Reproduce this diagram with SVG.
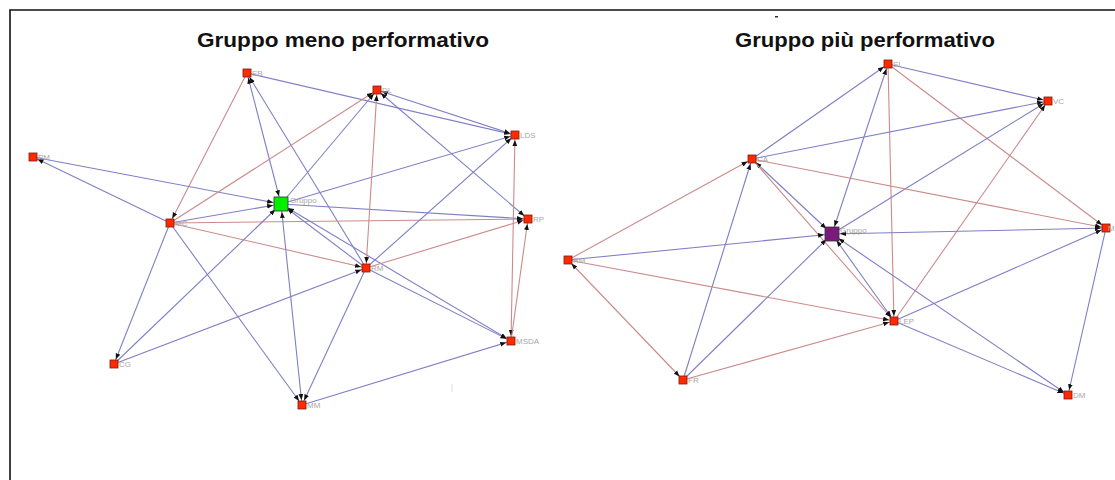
<svg xmlns="http://www.w3.org/2000/svg" width="1115" height="480" viewBox="0 0 1115 480">
<style>
.b{stroke:#7f7fc6;stroke-width:1.1;fill:none}
.r{stroke:#cc8a8a;stroke-width:1.1;fill:none}
.n{fill:#ff2a00;stroke:#7a1a10;stroke-width:0.8}
.lb{font-family:"Liberation Sans",Arial,sans-serif;font-size:8px;fill:#a8a8a8}
.t{font-family:"Liberation Sans",Arial,sans-serif;font-size:20px;font-weight:bold;fill:#111}
</style>
<defs>
<marker id="a" viewBox="0 0 12 6" refX="11" refY="3" markerWidth="12" markerHeight="6" markerUnits="userSpaceOnUse" orient="auto-start-reverse"><path d="M0,0.6 L6,3 L0,5.4z" fill="#111"/></marker>
<marker id="g" viewBox="0 0 15 6" refX="14" refY="3" markerWidth="15" markerHeight="6" markerUnits="userSpaceOnUse" orient="auto-start-reverse"><path d="M0,0.6 L6,3 L0,5.4z" fill="#111"/></marker>
</defs>
<rect width="1115" height="480" fill="#fff"/>
<path d="M10,480 V10 H1115" stroke="#111" stroke-width="1.6" fill="none"/>
<rect x="775" y="16" width="3" height="1.5" fill="#333"/>
<line x1="452" y1="384" x2="452" y2="392" stroke="#ddd" stroke-width="1"/>
<text class="t" x="197" y="47" textLength="292" lengthAdjust="spacingAndGlyphs">Gruppo meno  performativo</text>
<text class="t" x="735" y="47" textLength="260" lengthAdjust="spacingAndGlyphs">Gruppo più performativo</text>
<g id="connectors">
<!-- left -->
<line class="b" x1="247" y1="73" x2="515" y2="135" marker-end="url(#a)"/>
<line class="r" x1="247" y1="73" x2="170" y2="223" marker-end="url(#a)"/>
<line class="b" x1="247" y1="73" x2="281" y2="204" marker-end="url(#g)" marker-start="url(#a)"/>
<line class="b" x1="366" y1="268" x2="247" y2="73" marker-end="url(#a)"/>
<line class="b" x1="33" y1="157" x2="281" y2="204" marker-end="url(#g)"/>
<line class="b" x1="170" y1="223" x2="33" y2="157" marker-end="url(#a)"/>
<line class="r" x1="170" y1="223" x2="377" y2="90" marker-end="url(#a)"/>
<line class="b" x1="170" y1="223" x2="281" y2="204" marker-end="url(#g)"/>
<line class="r" x1="170" y1="223" x2="528" y2="219" marker-end="url(#a)"/>
<line class="r" x1="170" y1="223" x2="366" y2="268" marker-end="url(#a)"/>
<line class="b" x1="170" y1="223" x2="114" y2="364" marker-end="url(#a)"/>
<line class="b" x1="170" y1="223" x2="302" y2="405" marker-end="url(#a)"/>
<line class="b" x1="281" y1="204" x2="377" y2="90" marker-end="url(#a)"/>
<line class="b" x1="281" y1="204" x2="515" y2="135" marker-end="url(#a)"/>
<line class="b" x1="281" y1="204" x2="528" y2="219" marker-end="url(#a)"/>
<line class="b" x1="366" y1="268" x2="281" y2="204" marker-end="url(#g)"/>
<line class="b" x1="281" y1="204" x2="511" y2="341" marker-end="url(#a)" marker-start="url(#g)"/>
<line class="b" x1="302" y1="405" x2="281" y2="204" marker-end="url(#g)" marker-start="url(#a)"/>
<line class="r" x1="377" y1="90" x2="366" y2="268" marker-end="url(#a)" marker-start="url(#a)"/>
<line class="b" x1="377" y1="90" x2="515" y2="135" marker-end="url(#a)" marker-start="url(#a)"/>
<line class="b" x1="377" y1="90" x2="528" y2="219" marker-end="url(#a)" marker-start="url(#a)"/>
<line class="b" x1="366" y1="268" x2="515" y2="135" marker-end="url(#a)"/>
<line class="r" x1="515" y1="135" x2="511" y2="341" marker-end="url(#a)" marker-start="url(#a)"/>
<line class="r" x1="511" y1="341" x2="528" y2="219" marker-end="url(#a)"/>
<line class="r" x1="366" y1="268" x2="528" y2="219" marker-end="url(#a)"/>
<line class="b" x1="366" y1="268" x2="511" y2="341" marker-end="url(#a)"/>
<line class="b" x1="114" y1="364" x2="366" y2="268" marker-end="url(#a)"/>
<line class="b" x1="366" y1="268" x2="302" y2="405" marker-end="url(#a)"/>
<line class="b" x1="302" y1="405" x2="511" y2="341" marker-end="url(#a)"/>
<line class="b" x1="114" y1="364" x2="281" y2="204" marker-end="url(#g)"/>
<!-- right -->
<line class="b" x1="888" y1="64" x2="1048" y2="101" marker-end="url(#a)"/>
<line class="b" x1="752" y1="159" x2="888" y2="64" marker-end="url(#a)"/>
<line class="b" x1="832" y1="234" x2="888" y2="64" marker-end="url(#a)" marker-start="url(#g)"/>
<line class="r" x1="888" y1="64" x2="894" y2="321" marker-end="url(#a)"/>
<line class="r" x1="888" y1="64" x2="1106" y2="228" marker-end="url(#a)"/>
<line class="b" x1="752" y1="159" x2="1048" y2="101" marker-end="url(#a)"/>
<line class="b" x1="832" y1="234" x2="1048" y2="101" marker-end="url(#a)"/>
<line class="r" x1="894" y1="321" x2="1048" y2="101" marker-end="url(#a)"/>
<line class="r" x1="752" y1="159" x2="1106" y2="228" marker-end="url(#a)"/>
<line class="r" x1="568" y1="260" x2="752" y2="159" marker-end="url(#a)"/>
<line class="b" x1="752" y1="159" x2="832" y2="234" marker-end="url(#g)" marker-start="url(#a)"/>
<line class="r" x1="752" y1="159" x2="894" y2="321" marker-end="url(#a)"/>
<line class="b" x1="683" y1="380" x2="752" y2="159" marker-end="url(#a)"/>
<line class="b" x1="568" y1="260" x2="832" y2="234" marker-end="url(#g)"/>
<line class="r" x1="568" y1="260" x2="894" y2="321" marker-end="url(#a)"/>
<line class="r" x1="568" y1="260" x2="683" y2="380" marker-end="url(#a)" marker-start="url(#a)"/>
<line class="b" x1="683" y1="380" x2="832" y2="234" marker-end="url(#g)"/>
<line class="r" x1="683" y1="380" x2="894" y2="321" marker-end="url(#a)"/>
<line class="b" x1="1106" y1="228" x2="832" y2="234" marker-end="url(#g)" marker-start="url(#a)"/>
<line class="b" x1="832" y1="234" x2="894" y2="321" marker-end="url(#a)" marker-start="url(#g)"/>
<line class="b" x1="832" y1="234" x2="1068" y2="395" marker-end="url(#a)" marker-start="url(#g)"/>
<line class="b" x1="894" y1="321" x2="1106" y2="228" marker-end="url(#a)"/>
<line class="b" x1="894" y1="321" x2="1068" y2="395" marker-end="url(#a)"/>
<line class="b" x1="1106" y1="228" x2="1068" y2="395" marker-end="url(#a)"/>
</g>
<g id="n-EB"><rect class="n" x="243" y="69" width="8" height="8"/><text class="lb" x="252" y="76">EB</text></g>
<g id="n-PM"><rect class="n" x="29" y="153" width="8" height="8"/><text class="lb" x="38" y="160">PM</text></g>
<g id="n-MC"><rect class="n" x="166" y="219" width="8" height="8"/><text class="lb" x="175" y="226">MC</text></g>
<g id="n-G1"><rect x="274" y="197" width="14" height="14" fill="#00f000" stroke="#333" stroke-width="0.8"/><text class="lb" x="290" y="203">Gruppo</text></g>
<g id="n-DL"><rect class="n" x="373" y="86" width="8" height="8"/><text class="lb" x="382" y="93">DL</text></g>
<g id="n-LDS"><rect class="n" x="511" y="131" width="8" height="8"/><text class="lb" x="520" y="138">LDS</text></g>
<g id="n-RP"><rect class="n" x="524" y="215" width="8" height="8"/><text class="lb" x="533" y="222">RP</text></g>
<g id="n-RM1"><rect class="n" x="362" y="264" width="8" height="8"/><text class="lb" x="371" y="271">RM</text></g>
<g id="n-CG"><rect class="n" x="110" y="360" width="8" height="8"/><text class="lb" x="119" y="367">CG</text></g>
<g id="n-MM"><rect class="n" x="298" y="401" width="8" height="8"/><text class="lb" x="307" y="408">MM</text></g>
<g id="n-MSDA"><rect class="n" x="507" y="337" width="8" height="8"/><text class="lb" x="516" y="344">MSDA</text></g>
<g id="n-CA"><rect class="n" x="748" y="155" width="8" height="8"/><text class="lb" x="757" y="162">CA</text></g>
<g id="n-G2"><rect x="825" y="227" width="14" height="14" fill="#7a1a7a" stroke="#333" stroke-width="0.8"/><text class="lb" x="840" y="233">Gruppo</text></g>
<g id="n-RM2"><rect class="n" x="564" y="256" width="8" height="8"/><text class="lb" x="573" y="263">RM</text></g>
<g id="n-FR"><rect class="n" x="679" y="376" width="8" height="8"/><text class="lb" x="688" y="383">FR</text></g>
<g id="n-SI"><rect class="n" x="884" y="60" width="8" height="8"/><text class="lb" x="893" y="67">SI</text></g>
<g id="n-VC"><rect class="n" x="1044" y="97" width="8" height="8"/><text class="lb" x="1053" y="104">VC</text></g>
<g id="n-M"><rect class="n" x="1102" y="224" width="8" height="8"/><text class="lb" x="1108" y="231">M</text></g>
<g id="n-LEP"><rect class="n" x="890" y="317" width="8" height="8"/><text class="lb" x="899" y="324">LEP</text></g>
<g id="n-DM"><rect class="n" x="1064" y="391" width="8" height="8"/><text class="lb" x="1073" y="398">DM</text></g>
</svg>
